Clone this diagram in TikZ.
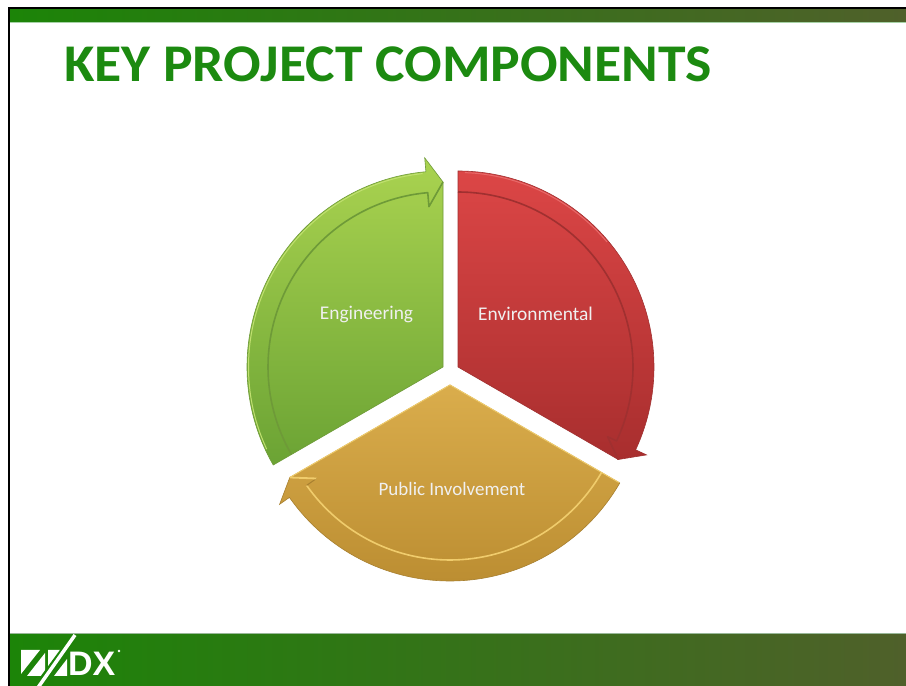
\documentclass[tikz,border=0pt]{standalone}
\usepackage{fontspec}
\setmainfont{Carlito}
\newfontfamily\logofont{Liberation Sans}
\usetikzlibrary{calc}
\definecolor{titlegreen}{HTML}{1C8A10}
\definecolor{barleft}{HTML}{1C8408}
\definecolor{barmid}{HTML}{357612}
\definecolor{barright}{HTML}{4F602A}
\definecolor{gtop}{HTML}{AAD350}\definecolor{gbot}{HTML}{6BA334}\definecolor{gline}{HTML}{6E9A38}\definecolor{ghi}{HTML}{C0E070}
\definecolor{rtop}{HTML}{DC4646}\definecolor{rbot}{HTML}{A82E2E}\definecolor{rline}{HTML}{A03030}\definecolor{rhi}{HTML}{E86A6A}
\definecolor{otop}{HTML}{DAAD4C}\definecolor{obot}{HTML}{BC8E32}\definecolor{oline}{HTML}{A88030}\definecolor{ohi}{HTML}{F0CC6C}
\tikzset{x=1pt,y=1pt,
  seglabel/.style={text=white!94!black,font=\fontsize{#1}{22}\selectfont,inner sep=0pt},
  groove/.style={draw=#1,line width=1.6pt,line join=round},
  rim/.style={draw=#1,line width=1pt},
  logo/.style={fill=white,draw=none},
  barshade/.style={left color=barleft,middle color=barmid,right color=barright}}
\begin{document}
\begin{tikzpicture}
\useasboundingbox (0,0) rectangle (906,686);
\fill[white] (0,0) rectangle (906,686);
% bars
\shade[barshade] (10,664) rectangle (906,677);
\draw[green!50!black!35,line width=0.7pt] (10,663.6) -- (906,663.6);
\shade[barshade] (10,0) rectangle (906,52);
\draw[green!30!black!40,line width=0.7pt] (10,52.2) -- (906,52.2);
\draw[black,line width=2.2pt] (9,0) -- (9,678) -- (906,678);
% title
\node[anchor=base west,inner sep=0pt,text=titlegreen,xscale=1.05,font=\fontsize{53}{58}\bfseries\selectfont] (title) at (64,604) {KEY PROJECT COMPONENTS};
% green
\coordinate (gc) at (443,319);
\shade[top color=gtop,bottom color=gbot,draw=gline,line width=0.6pt]
  (gc) -- ($(gc)+(210:196)$) arc[start angle=210,end angle=95,radius=196]
  -- ($(gc)+(95:210)$) -- ($(gc)+(90:185)$) -- cycle;
\draw[groove=gline] ($(gc)+(210:175)$) arc[start angle=210,end angle=95,radius=175] -- ($(gc)+(95:161)$) -- ($(gc)+(90:185)$);
\draw[rim=ghi] ($(gc)+(205:194.5)$) arc[start angle=205,end angle=96,radius=194.5];
% red
\coordinate (rc) at (458,319);
\shade[top color=rtop,bottom color=rbot,draw=rline,line width=0.6pt]
  (rc) -- ($(rc)+(90:196)$) arc[start angle=90,end angle=-25,radius=196]
  -- ($(rc)+(-25:208)$) -- ($(rc)+(-30:185)$) -- cycle;
\draw[groove=rline] ($(rc)+(90:175)$) arc[start angle=90,end angle=-25,radius=175] -- ($(rc)+(-25:165)$) -- ($(rc)+(-30:185)$);
\draw[rim=rhi] ($(rc)+(88:194.5)$) arc[start angle=88,end angle=40,radius=194.5];
% gold
\coordinate (oc) at (450,301);
\shade[top color=otop,bottom color=obot,draw=oline,line width=0.6pt]
  (oc) -- ($(oc)+(-30:196)$) arc[start angle=-30,end angle=-145,radius=196]
  -- ($(oc)+(-145:208)$) -- ($(oc)+(-150:185)$) -- cycle;
\draw[groove=ohi] ($(oc)+(-30:175)$) arc[start angle=-30,end angle=-145,radius=175];
\draw[draw=oline,line width=1pt] ($(oc)+(-145:175)$) -- ($(oc)+(-145:163)$);
\draw[rim=ohi,line width=1.8pt] ($(oc)+(-150:185)$) -- ($(oc)+(-145:163)$);
\draw[rim=ohi] (oc) -- ($(oc)+(-150:185)$);
\draw[rim=ohi] (oc) -- ($(oc)+(-30:195)$);
% labels
\node[seglabel=19.4] (eng) at (366.5,372) {Engineering};
\node[seglabel=19.4] (env) at (535.5,372) {Environmental};
\node[seglabel=19] (pub) at (452,197) {Public Involvement};
% logo
\fill[logo] (21,36) -- (40,36) -- (21,12) -- cycle;
\fill[logo] (27,10) -- (45,33) -- (45,10) -- cycle;
\fill[logo] (48,36) -- (67,36) -- (48,12) -- cycle;
\fill[logo] (54,10) -- (67,27) -- (67,10) -- cycle;
\draw[barleft,line width=6.5pt] (72,47) -- (42,6);
\draw[white,line width=3.5pt] (75,51) -- (37,-3);
\node[anchor=base west,inner sep=0pt,text=white,font=\logofont\fontsize{34}{38}\bfseries\selectfont] (logotext) at (68,10) {DX};
\fill[logo] (119,35) circle[radius=1.4];
\end{tikzpicture}
\end{document}
